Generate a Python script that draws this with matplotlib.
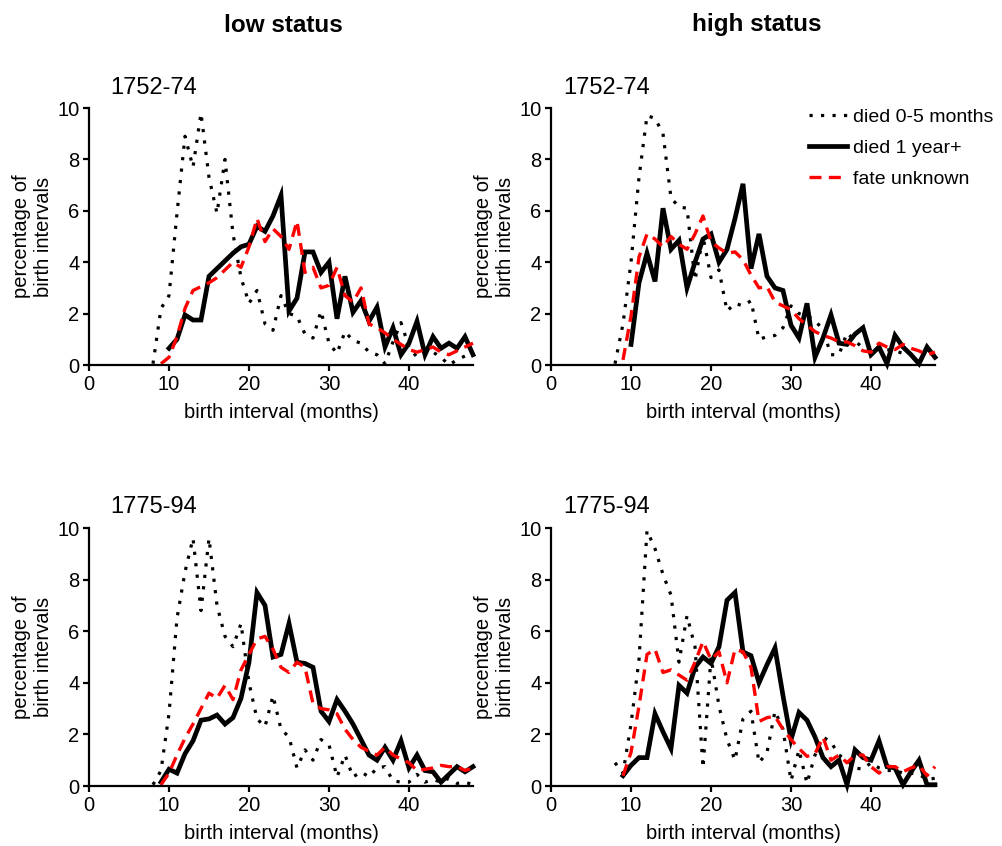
import numpy as np
import matplotlib
matplotlib.use("Agg")
import matplotlib.pyplot as plt
from matplotlib.lines import Line2D

plt.rcParams['font.family'] = ['Liberation Sans', 'DejaVu Sans']

# ---- data: percentage of birth intervals per month of interval ----
# top-left: low status 1752-74
tl_died05_start = 8
tl_died05 = [0.05, 2.2, 2.7, 5.9, 8.9, 7.7, 9.8, 7.3, 5.9, 8.0, 5.1, 3.4, 2.4, 2.9, 1.6,
             1.35, 2.7, 2.0, 1.9, 1.2, 1.05, 2.1, 0.85, 0.45, 1.3, 0.95, 0.85, 0.5, 0.4,
             0.05, 0.9, 1.65, 0.7, 0.3, 0.45, 0.5, 0.3, 0.0, 0.2, 0.35, 0.4]
tl_died1y_start = 10
tl_died1y = [0.65, 1.0, 1.95, 1.75, 1.75, 3.45, 3.75, 4.05, 4.35, 4.6, 4.7, 5.4, 5.2, 5.8,
             6.6, 2.1, 2.6, 4.4, 4.4, 3.6, 4.0, 1.8, 3.45, 2.05, 2.5, 1.7, 2.25, 0.7, 1.45,
             0.4, 0.85, 1.7, 0.4, 1.1, 0.65, 0.85, 0.65, 1.1, 0.4]
tl_unknown_start = 9
tl_unknown = [0.05, 0.3, 1.1, 2.2, 2.9, 3.05, 3.2, 3.4, 3.7, 4.0, 3.8, 4.6, 5.7, 4.8, 5.3,
              5.0, 4.5, 5.6, 3.6, 3.8, 3.0, 3.1, 3.8, 2.7, 2.45, 3.0, 1.6, 1.45, 1.25, 1.0,
              0.8, 0.6, 0.5, 0.6, 0.7, 0.5, 0.4, 0.55, 0.7, 0.85]

# top-right: high status 1752-74
tr_died05_start = 8
tr_died05 = [0.05, 1.6, 4.0, 7.3, 9.7, 9.6, 9.0, 6.5, 6.15, 6.1, 3.3, 5.0, 3.4, 3.7, 2.1,
             2.4, 2.3, 2.5, 1.0, 1.1, 1.15, 1.45, 2.3, 2.0, 1.9, 1.75, 1.35, 0.4, 0.4,
             1.25, 0.95, 0.65, 0.5, 0.7, 0.6, 0.55, 0.45, 0.4, 0.4, 0.4, 0.35]
tr_died1y_start = 10
tr_died1y = [0.8, 3.2, 4.35, 3.25, 6.1, 4.5, 4.85, 3.0, 4.0, 4.9, 5.1, 4.0, 4.5, 5.7, 7.05,
             3.75, 5.1, 3.45, 3.0, 2.9, 1.55, 1.05, 2.4, 0.3, 1.05, 1.95, 0.85, 0.8, 1.2,
             1.45, 0.4, 0.7, 0.05, 1.15, 0.7, 0.4, 0.05, 0.7, 0.3]
tr_unknown_start = 9
tr_unknown = [0.2, 1.9, 4.2, 5.1, 4.9, 4.6, 5.0, 4.7, 4.5, 5.1, 5.8, 4.8, 4.55, 4.35, 4.4,
              4.1, 3.5, 3.0, 3.05, 2.45, 2.3, 2.15, 1.8, 1.55, 1.3, 1.15, 1.05, 0.9, 0.9,
              0.75, 0.55, 0.5, 0.85, 0.7, 0.6, 0.8, 0.65, 0.55, 0.4, 0.5]

# bottom-left: low status 1775-94
bl_died05_start = 8
bl_died05 = [0.05, 0.6, 2.8, 6.5, 8.3, 9.6, 6.8, 9.6, 7.0, 5.8, 5.4, 6.3, 4.0, 2.6, 2.3,
             3.5, 2.2, 1.9, 0.7, 1.4, 1.0, 1.8, 1.6, 0.35, 1.2, 0.35, 0.55, 0.35, 0.7,
             0.75, 0.2, 0.15, 0.15, 0.45, 0.15, 0.25, 0.15, 0.3, 0.1, 0.15, 0.05]
bl_died1y_start = 9
bl_died1y = [0.15, 0.65, 0.5, 1.25, 1.75, 2.55, 2.6, 2.75, 2.4, 2.65, 3.4, 4.8, 7.5, 7.0,
             5.0, 5.1, 6.3, 4.8, 4.75, 4.6, 2.9, 2.5, 3.35, 2.9, 2.4, 1.8, 1.2, 1.0, 1.5,
             1.0, 1.75, 0.7, 1.2, 0.6, 0.55, 0.15, 0.45, 0.75, 0.55, 0.75]
bl_unknown_start = 9
bl_unknown = [0.05, 0.5, 1.2, 1.85, 2.4, 3.0, 3.6, 3.4, 3.9, 3.35, 4.5, 5.1, 5.7, 5.8, 5.3,
              4.6, 4.4, 4.8, 4.6, 3.2, 3.0, 2.95, 2.8, 2.2, 1.8, 1.5, 1.35, 1.2, 1.5, 1.2,
              1.05, 0.9, 0.6, 0.65, 0.7, 0.8, 0.75, 0.75, 0.6, 0.7]

# bottom-right: high status 1775-94
br_died05_start = 8
br_died05 = [0.9, 0.5, 2.4, 4.9, 9.9, 9.2, 8.2, 7.4, 4.8, 6.6, 5.4, 0.7, 5.0, 3.1, 1.8,
             1.0, 2.6, 2.9, 0.9, 1.3, 2.9, 2.2, 0.2, 1.4, 0.1, 1.2, 1.9, 1.7, 1.2, 1.0,
             0.7, 0.65, 0.9, 0.7, 0.6, 0.6, 0.5, 0.5, 0.45, 0.25, 0.3]
br_died1y_start = 9
br_died1y = [0.4, 0.8, 1.1, 1.1, 2.8, 2.1, 1.45, 3.9, 3.6, 4.6, 5.0, 4.75, 5.4, 7.2, 7.5,
             5.2, 5.05, 4.0, 4.7, 5.35, 3.5, 1.8, 2.85, 2.55, 1.9, 1.1, 0.75, 1.0, 0.05,
             1.4, 1.1, 1.0, 1.75, 0.75, 0.7, 0.05, 0.55, 1.0, 0.05, 0.05]
br_unknown_start = 9
br_unknown = [0.4, 1.3, 3.1, 5.1, 5.3, 4.4, 4.5, 4.3, 4.1, 4.8, 5.6, 4.9, 5.2, 4.0, 5.3,
              5.2, 4.6, 2.5, 2.65, 2.7, 2.2, 1.8, 1.45, 1.15, 1.25, 1.9, 1.0, 1.2, 0.9,
              1.2, 1.2, 0.75, 0.5, 0.75, 0.75, 0.55, 0.7, 0.8, 0.4, 0.75]

col_titles = ['low status', 'high status']
period_labels = ['1752-74', '1775-94']
legend_labels = ['died 0-5 months', 'died 1 year+', 'fate unknown']

panels = [
    [(tl_died05_start, tl_died05), (tl_died1y_start, tl_died1y), (tl_unknown_start, tl_unknown)],
    [(tr_died05_start, tr_died05), (tr_died1y_start, tr_died1y), (tr_unknown_start, tr_unknown)],
    [(bl_died05_start, bl_died05), (bl_died1y_start, bl_died1y), (bl_unknown_start, bl_unknown)],
    [(br_died05_start, br_died05), (br_died1y_start, br_died1y), (br_unknown_start, br_unknown)],
]

styles = [
    dict(color='black', lw=2.3, linestyle=(0, (1, 2.6)), dash_capstyle='butt'),
    dict(color='black', lw=3.4, linestyle='-', solid_joinstyle='miter'),
    dict(color='#ff0000', lw=2.4, linestyle=(0, (3.6, 2.2)), dash_capstyle='butt'),
]

W, H = 1003, 846
fig = plt.figure(figsize=(W / 100, H / 100), dpi=100)

# axes boxes in pixels: (left, top, right, bottom)
boxes = [(89, 108, 473, 365), (551, 108, 935, 365),
         (89, 528, 473, 786), (551, 528, 935, 786)]

FS = 14.5
axes = []
for i, (l, t, r, b) in enumerate(boxes):
    ax = fig.add_axes([l / W, 1 - b / H, (r - l) / W, (b - t) / H])
    for (start, vals), st in zip(panels[i], styles):
        x = np.arange(start, start + len(vals))
        ax.plot(x, vals, clip_on=False, **st)
    ax.set_xlim(0, 48)
    ax.set_ylim(0, 10)
    ax.set_xticks([0, 10, 20, 30, 40])
    ax.set_yticks([0, 2, 4, 6, 8, 10])
    for s in ['top', 'right']:
        ax.spines[s].set_visible(False)
    for s in ['left', 'bottom']:
        ax.spines[s].set_linewidth(1.6)
    ax.tick_params(axis='both', direction='out', length=4, width=1.6,
                   labelsize=FS, pad=3)
    ax.set_xlabel('birth interval (months)', fontsize=FS, labelpad=7)
    ax.text(-0.148, 0.5, 'percentage of\nbirth intervals', transform=ax.transAxes,
            rotation=90, ha='center', va='center', fontsize=FS, linespacing=1.2)
    axes.append(ax)

# column titles and period labels
fig.text(283 / W, 1 - 25 / H, col_titles[0], ha='center', va='center',
         fontsize=17.5, fontweight='bold')
fig.text(757 / W, 1 - 25 / H, col_titles[1], ha='center', va='center',
         fontsize=17.5, fontweight='bold')
for j, lab in enumerate(period_labels):
    yc = [88, 507][j]
    fig.text(110 / W, 1 - yc / H, lab, ha='left', va='center', fontsize=17)
    fig.text(563 / W, 1 - yc / H, lab, ha='left', va='center', fontsize=17)

handles = [Line2D([], [], **st) for st in styles]
fig.legend(handles, legend_labels, loc='upper left',
           bbox_to_anchor=(809 / W, 1 - 108 / H), frameon=False, fontsize=14,
           handlelength=1.95, handletextpad=0.3, labelspacing=0.7,
           borderaxespad=0, borderpad=0)

fig.savefig('out.png', dpi=100)
